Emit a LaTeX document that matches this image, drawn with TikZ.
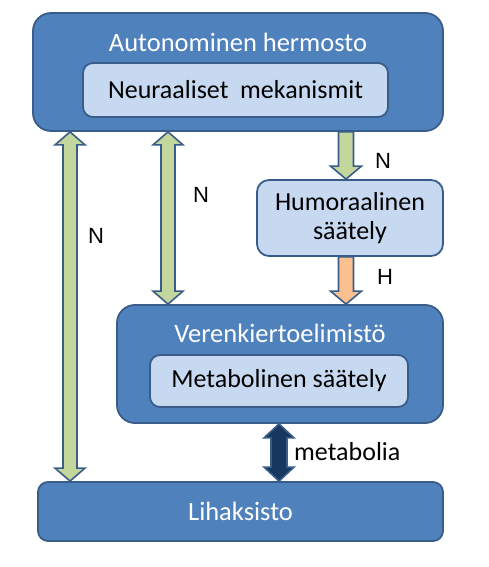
\documentclass[tikz,border=0pt]{standalone}
\usepackage{fontspec}
\setmainfont{Carlito}
\newfontfamily\arialf{Liberation Sans}
\usetikzlibrary{calc}
\definecolor{boxblue}{HTML}{4F81BD}
\definecolor{boxline}{HTML}{385D8A}
\definecolor{lightblue}{HTML}{C6D9F1}
\definecolor{greenarr}{HTML}{C3D69B}
\definecolor{orangearr}{HTML}{FAC090}
\definecolor{navyarr}{HTML}{17375E}
\tikzset{
  bigbox/.style={draw=boxline, line width=1.8pt, fill=boxblue, rounded corners=18pt, inner sep=0pt},
  smallbox/.style={draw=boxline, line width=1.8pt, fill=boxblue, rounded corners=10pt, inner sep=0pt},
  innerbox/.style={draw=boxline, line width=1.8pt, fill=lightblue, rounded corners=10pt, inner sep=0pt, font=\fontsize{26}{30}\selectfont, text=black},
  whitetxt/.style={font=\fontsize{26.5}{30}\selectfont, text=white, inner sep=0pt},
  lbl/.style={font=\arialf\fontsize{22}{24}\selectfont, text=black, inner sep=0pt},
  blacktxt/.style={font=\fontsize{26}{30}\selectfont, text=black, inner sep=0pt},
  fatarr/.style={draw=boxline, line width=1.6pt, line join=miter},
}
% double vertical arrow between #1 (top) and #2 (bottom); #3 half shaft, #4 half head, #5 head length
\newcommand\dblarrow[6]{%
  \draw[fatarr, fill=#6] let \p1=(#1), \p2=(#2) in
    (\x1,\y1) -- (\x1+#4,\y1-#5) -- (\x1+#3,\y1-#5) -- (\x1+#3,\y2+#5) -- (\x1+#4,\y2+#5)
    -- (\x1,\y2) -- (\x1-#4,\y2+#5) -- (\x1-#3,\y2+#5) -- (\x1-#3,\y1-#5) -- (\x1-#4,\y1-#5) -- cycle;}
\newcommand\dnarrow[6]{%
  \draw[fatarr, fill=#6] let \p1=(#1), \p2=(#2) in
    (\x1-#3,\y1) -- (\x1+#3,\y1) -- (\x1+#3,\y2+#5) -- (\x1+#4,\y2+#5)
    -- (\x1,\y2) -- (\x1-#4,\y2+#5) -- (\x1-#3,\y2+#5) -- cycle;}
\begin{document}
\begin{tikzpicture}[x=1pt,y=-1pt]
\useasboundingbox (0,0) rectangle (488,567);
% boxes
\node[bigbox, minimum width=410pt, minimum height=118pt] (top) at (238,72) {};
\node[whitetxt] (toptxt) at (238,42) {Autonominen hermosto};
\node[innerbox, minimum width=305pt, minimum height=54pt] (neur) at (235.5,90) {Neuraaliset\ \ mekanismit};
\node[innerbox, minimum width=186pt, minimum height=76pt, rounded corners=12pt, align=center] (hum) at (350,218)
  {Humoraalinen\\[-1pt]säätely};
\node[bigbox, minimum width=326pt, minimum height=118pt] (ver) at (280,364) {};
\node[whitetxt] (vertxt) at (280,333) {Verenkiertoelimistö};
\node[innerbox, minimum width=258pt, minimum height=52pt] (met) at (279,381) {Metabolinen säätely};
\node[smallbox, minimum width=405pt, minimum height=59pt, text=white, font=\fontsize{26.5}{30}\selectfont] (lih) at (240.5,511.5) {Lihaksisto};
% x positions of arrows
\coordinate (xl) at (70,0);
\coordinate (xm) at (168,0);
\coordinate (xr) at (346,0);
\coordinate (xb) at (279,0);
% arrows
\dblarrow{xl |- top.south}{xl |- lih.north}{7}{15}{13}{greenarr}
\dblarrow{xm |- top.south}{xm |- ver.north}{7}{15}{13}{greenarr}
\dnarrow{xr |- top.south}{xr |- hum.north}{7.5}{15.5}{13}{greenarr}
\dnarrow{xr |- hum.south}{xr |- ver.north}{7.5}{15.5}{13}{orangearr}
\dblarrow{xb |- ver.south}{xb |- lih.north}{8}{15}{14}{navyarr}
% labels
\node[lbl] (n1) at (96,236) {N};
\node[lbl] (n2) at (201,195) {N};
\node[lbl] (n3) at (383,161) {N};
\node[lbl] (h1) at (385,277) {H};
\node[blacktxt, anchor=west] (metab) at (294,452) {metabolia};
\end{tikzpicture}
\end{document}
